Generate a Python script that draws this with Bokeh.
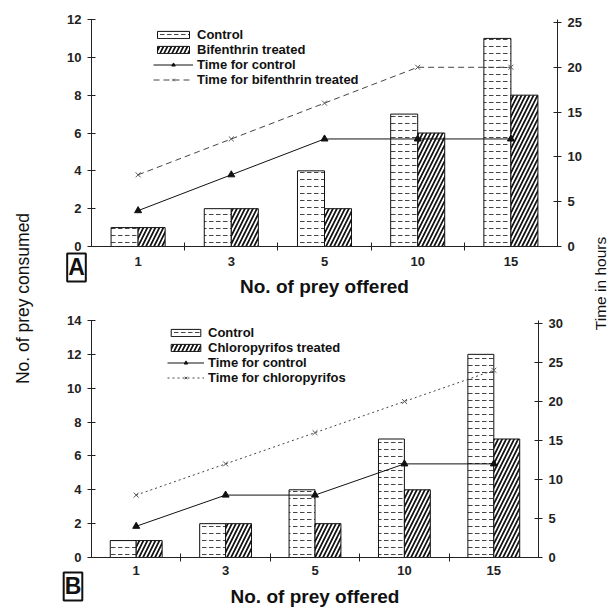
import math
from bokeh.plotting import figure
from bokeh.layouts import row, column
from bokeh.models import (Range1d, LinearAxis, FixedTicker, Legend, LegendItem, Label)
from bokeh.embed import file_html
from bokeh.resources import INLINE

# ---------------- data ----------------
prey_offered = ["1", "3", "5", "10", "15"]

# Panel A
a_control = [1, 2, 4, 7, 11]
a_bifenthrin = [1, 2, 2, 6, 8]
a_time_control = [4, 8, 12, 12, 12]
a_time_bifenthrin = [8, 12, 16, 20, 20]

# Panel B
b_control = [1, 2, 4, 7, 12]
b_chloropyrifos = [1, 2, 2, 4, 7]
b_time_control = [4, 8, 8, 12, 12]
b_time_chloropyrifos = [8, 12, 16, 20, 24]

FONT = "Liberation Sans"
BAR_W = 0.29


def make_panel(width, height, borders, y_max, y_step, t_max, t_end, t_step,
               control, treated, t_control, t_treated, labels, treated_dash,
               legend_loc, glyph_w, panel_letter, letter_xy, stand1, stand2):
    pos = list(range(1, len(prey_offered) + 1))
    p = figure(width=width, height=height, output_backend="svg", toolbar_location=None,
               x_range=Range1d(0.5, len(prey_offered) + 0.5), y_range=Range1d(0, y_max),
               x_axis_location=None, y_axis_location=None,
               min_border_left=borders[0], min_border_right=borders[1],
               min_border_top=borders[2], min_border_bottom=borders[3])
    p.outline_line_color = None
    p.grid.visible = False
    p.background_fill_color = "white"
    p.border_fill_color = "white"
    p.extra_y_ranges = {"t": Range1d(0, t_end)}

    yl = LinearAxis(ticker=FixedTicker(ticks=list(range(0, y_max + 1, y_step)), minor_ticks=[]))
    yr = LinearAxis(y_range_name="t",
                    ticker=FixedTicker(ticks=list(range(0, t_max + 1, t_step)), minor_ticks=[]))
    xa = LinearAxis(ticker=FixedTicker(ticks=pos, minor_ticks=[k + 0.5 for k in pos[:-1]]),
                    major_label_overrides={k: lab for k, lab in zip(pos, prey_offered)},
                    axis_label="No. of prey offered")
    for ax in (yl, yr, xa):
        ax.axis_line_color = "#222222"
        ax.major_tick_line_color = "#222222"
        ax.minor_tick_line_color = "#222222"
        ax.major_label_text_font = FONT
        ax.major_label_text_font_style = "bold"
        ax.major_label_text_font_size = "13px"
        ax.major_label_text_color = "#222222"
    for ax in (yl, yr):
        ax.major_tick_in = 4
        ax.major_tick_out = 4
        ax.minor_tick_in = 0
        ax.minor_tick_out = 0
        ax.major_label_standoff = 6
    xa.major_tick_in = 0
    xa.major_tick_out = 0
    xa.minor_tick_in = 4
    xa.minor_tick_out = 4
    xa.major_label_standoff = stand1
    xa.axis_label_text_font = FONT
    xa.axis_label_text_font_style = "bold"
    xa.axis_label_text_font_size = "19px"
    xa.axis_label_text_color = "#111111"
    xa.axis_label_standoff = stand2
    p.add_layout(yl, "left")
    p.add_layout(yr, "right")
    p.add_layout(xa, "below")

    xc = [k - BAR_W / 2 for k in pos]
    xt = [k + BAR_W / 2 for k in pos]
    r_c = p.vbar(x=xc, top=control, width=BAR_W, fill_color="white", line_color="#111111",
                 line_width=1, hatch_pattern="horizontal_dash", hatch_color="#444444",
                 hatch_scale=7, hatch_weight=1)
    r_t = p.vbar(x=xt, top=treated, width=BAR_W, fill_color="white", line_color="#111111",
                 line_width=1, hatch_pattern="right_diagonal_line", hatch_color="#111111",
                 hatch_scale=8, hatch_weight=1.7)

    l_c = p.line(pos, t_control, y_range_name="t", line_color="#111111", line_width=1)
    m_c = p.scatter(pos, t_control, y_range_name="t", marker="triangle", size=7,
                    fill_color="#111111", line_color="#111111")
    l_t = p.line(pos, t_treated, y_range_name="t", line_color="#444444", line_width=1,
                 line_dash=treated_dash)
    m_t = p.scatter(pos, t_treated, y_range_name="t", marker="x", size=7,
                    line_color="#555555", line_width=1)

    legend = Legend(items=[LegendItem(label=labels[0], renderers=[r_c]),
                           LegendItem(label=labels[1], renderers=[r_t]),
                           LegendItem(label=labels[2], renderers=[l_c, m_c]),
                           LegendItem(label=labels[3], renderers=[l_t, m_t])],
                    location=legend_loc, orientation="vertical")
    legend.background_fill_alpha = 0
    legend.border_line_alpha = 0
    legend.padding = 0
    legend.margin = 0
    legend.spacing = 0
    legend.glyph_width = glyph_w
    legend.glyph_height = 9
    legend.label_height = 14
    legend.label_standoff = 4
    legend.label_text_font = FONT
    legend.label_text_font_style = "bold"
    legend.label_text_font_size = "13px"
    legend.label_text_color = "#111111"
    p.add_layout(legend, "center")

    # panel letter in a box, placed in the left side panel so it is not clipped to the frame
    lab = Label(x=letter_xy[0], y=letter_xy[1], x_units="data", y_units="data",
                text=panel_letter, text_font=FONT, text_font_style="bold",
                text_font_size="23px", text_align="center", text_baseline="middle",
                text_color="#111111",
                border_line_color="#111111", border_line_width=2,
                background_fill_color="white", padding=1)
    p.add_layout(lab, "left")
    return p


pA = make_panel(550, 305, (57, 27, 19, 59), 12, 2, 25, 25.33, 5,
                a_control, a_bifenthrin, a_time_control, a_time_bifenthrin,
                ["Control", "Bifenthrin treated", "Time for control",
                 "Time for bifenthrin treated"], "6 4", (62, 159), 40, "A",
                (0.339, -1.11), 6, 7)
pB = make_panel(531, 305, (53, 27, 15, 53), 14, 2, 30, 30.38, 5,
                b_control, b_chloropyrifos, b_time_control, b_time_chloropyrifos,
                ["Control", "Chloropyrifos treated", "Time for control",
                 "Time for chloropyrifos"], "2 3", (76, 172), 37, "B",
                (0.293, -1.71), 4, 8)


def side_label(width, height, text, x, y, size):
    f = figure(width=width, height=height, output_backend="svg", toolbar_location=None,
               x_range=Range1d(0, 1), y_range=Range1d(0, 1),
               x_axis_location=None, y_axis_location=None, min_border=0)
    f.outline_line_color = None
    f.grid.visible = False
    f.add_layout(Label(x=x, y=y, x_units="screen", y_units="screen", text=text,
                       angle=math.pi / 2, text_font=FONT, text_font_size=size,
                       text_align="center", text_baseline="middle", text_color="#111111"))
    return f


left = side_label(34, 610, "No. of prey consumed", 22, 312, "17.5px")
right = side_label(26, 610, "Time in hours", 16, 327, "15.5px")

layout = row(left, column(pA, pB), right)

with open("out.html", "w") as fh:
    fh.write(file_html(layout, INLINE))
